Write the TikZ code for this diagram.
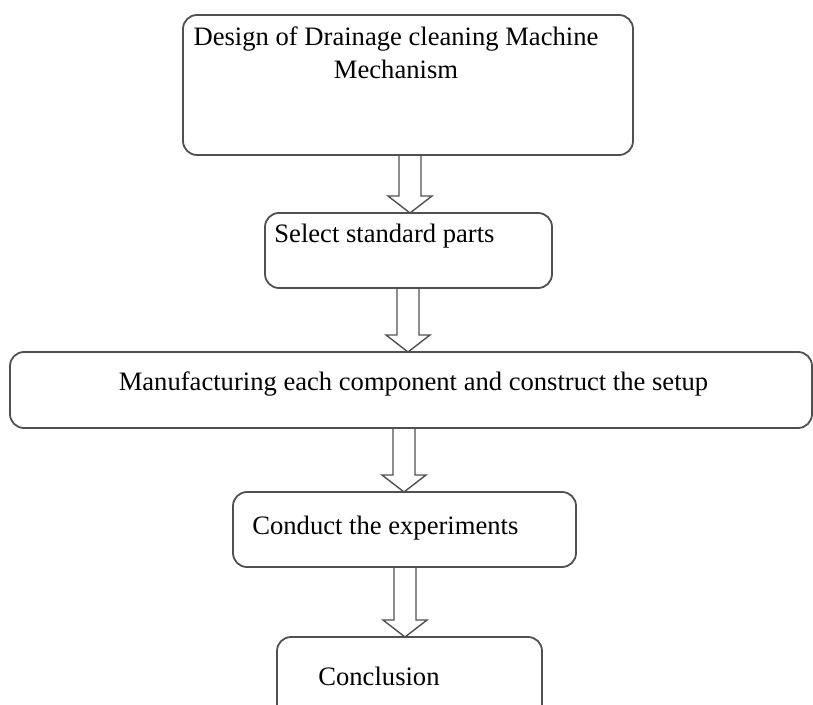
\documentclass[tikz,border=0pt]{standalone}
\usepackage{fontspec}
\setmainfont{Liberation Serif}
\usetikzlibrary{calc}
\definecolor{edge}{HTML}{505050}
\tikzset{
  stepbox/.style={draw=edge, line width=0.9pt, rounded corners=7pt, inner sep=0pt, outer sep=0pt},
  steptext/.style={font=\fontsize{13.3}{16.5}\selectfont, text=black, inner sep=0pt},
  arrowline/.style={draw=edge, line width=0.7pt, line join=miter}
}
\newcommand\blockarr[2]{%
  \draw[arrowline] let \p1=(#1), \p2=(#2) in
    (\x1-5.5pt,\y1) -- (\x1-5.5pt,\y2+8.5pt) -- (\x1-11pt,\y2+8.5pt) -- (\x1,\y2)
    -- (\x1+11pt,\y2+8.5pt) -- (\x1+5.5pt,\y2+8.5pt) -- (\x1+5.5pt,\y1);}
\begin{document}
\begin{tikzpicture}[x=0.5pt,y=-0.5pt]
\useasboundingbox (0,0) rectangle (813,705);
\clip (0,0) rectangle (813,705);
% boxes
\node[stepbox, minimum width=225pt, minimum height=70pt] (b1) at (408,85) {};
\node[stepbox, minimum width=143.5pt, minimum height=37.5pt] (b2) at (408.5,250.5) {};
\node[stepbox, minimum width=401pt, minimum height=38pt] (b3) at (411,390) {};
\node[stepbox, minimum width=171.5pt, minimum height=37.5pt] (b4) at (404.5,529.5) {};
\node[stepbox, minimum width=132.5pt, minimum height=45pt] (b5) at (409.5,682) {};
% texts
\node[steptext, align=center] (t1) at (396,53) {Design of Drainage cleaning Machine\\Mechanism};
\node[steptext, anchor=west] (t2) at (274,236) {Select standard parts};
\node[steptext] (t3) at (413.5,384) {Manufacturing each component and construct the setup};
\node[steptext, anchor=west] (t4) at (252,528) {Conduct the experiments};
\node[steptext, anchor=west] (t5) at (318,676) {Conclusion};
% arrow axes
\coordinate (x1) at (410,0);
\coordinate (x2) at (408,0);
\coordinate (x3) at (404,0);
\coordinate (x4) at (405,0);
\blockarr{b1.south -| x1}{b2.north -| x1}
\blockarr{b2.south -| x2}{b3.north -| x2}
\blockarr{b3.south -| x3}{b4.north -| x3}
\blockarr{b4.south -| x4}{b5.north -| x4}
\end{tikzpicture}
\end{document}
